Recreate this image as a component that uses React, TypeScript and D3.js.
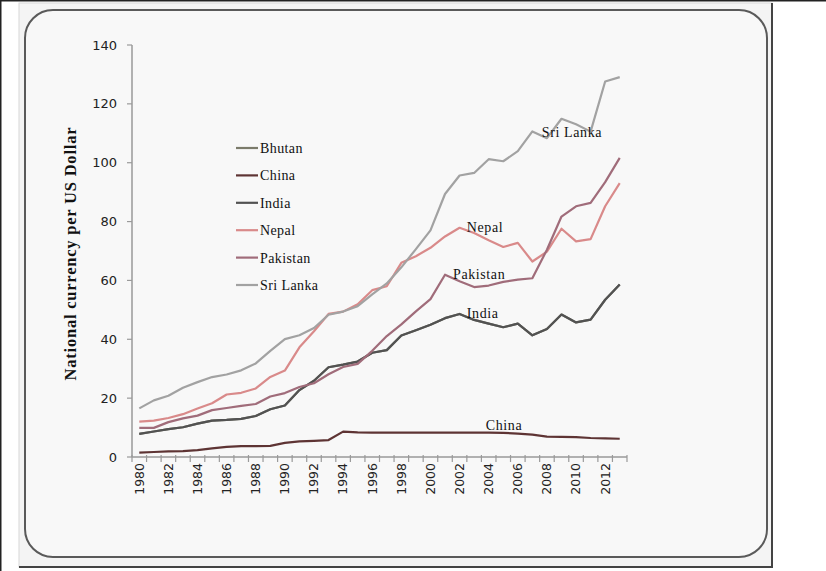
import React from "react";
import * as d3 from "d3";

const years: number[] = d3.range(1980, 2014);
const yTicks = [0, 20, 40, 60, 80, 100, 120, 140];
const xTickLabels = d3.range(1980, 2014, 2);

const bhutan = [7.86, 8.66, 9.46, 10.1, 11.36, 12.37, 12.61, 12.96, 13.92, 16.23, 17.5, 22.74, 25.92, 30.49, 31.37, 32.43, 35.43, 36.31, 41.26, 43.06, 44.94, 47.19, 48.61, 46.58, 45.32, 44.1, 45.31, 41.35, 43.51, 48.41, 45.73, 46.67, 53.44, 58.6];
const china = [1.5, 1.7, 1.89, 1.98, 2.32, 2.94, 3.45, 3.72, 3.72, 3.77, 4.78, 5.32, 5.51, 5.76, 8.62, 8.35, 8.31, 8.29, 8.28, 8.28, 8.28, 8.28, 8.28, 8.28, 8.28, 8.19, 7.97, 7.61, 6.95, 6.83, 6.77, 6.46, 6.31, 6.2];
const india = [7.86, 8.66, 9.46, 10.1, 11.36, 12.37, 12.61, 12.96, 13.92, 16.23, 17.5, 22.74, 25.92, 30.49, 31.37, 32.43, 35.43, 36.31, 41.26, 43.06, 44.94, 47.19, 48.61, 46.58, 45.32, 44.1, 45.31, 41.35, 43.51, 48.41, 45.73, 46.67, 53.44, 58.6];
const nepal = [12.0, 12.34, 13.24, 14.55, 16.46, 18.25, 21.23, 21.82, 23.29, 27.19, 29.37, 37.26, 42.72, 48.61, 49.4, 51.89, 56.69, 58.01, 65.98, 68.24, 71.09, 74.95, 77.88, 76.14, 73.67, 71.37, 72.76, 66.42, 69.76, 77.55, 73.26, 74.02, 85.2, 93.08];
const pakistan = [9.9, 9.9, 11.85, 13.12, 14.05, 15.93, 16.65, 17.4, 18.0, 20.54, 21.71, 23.8, 25.08, 28.11, 30.57, 31.64, 36.08, 41.11, 45.05, 49.5, 53.65, 61.93, 59.72, 57.75, 58.26, 59.51, 60.27, 60.74, 70.41, 81.71, 85.19, 86.34, 93.4, 101.63];
const sriLanka = [16.53, 19.25, 20.81, 23.53, 25.44, 27.16, 28.02, 29.45, 31.81, 36.05, 40.06, 41.37, 43.83, 48.32, 49.42, 51.25, 55.27, 58.99, 64.45, 70.64, 77.01, 89.38, 95.66, 96.52, 101.19, 100.5, 103.91, 110.62, 108.33, 114.94, 113.06, 110.57, 127.6, 129.07];

const seriesNames = ["Bhutan", "China", "India", "Nepal", "Pakistan", "Sri Lanka"];
const seriesValues = [bhutan, china, india, nepal, pakistan, sriLanka];
const seriesColors = ["#7b7b6b", "#5e3434", "#525252", "#d98a8a", "#a06c7a", "#a2a2a2"];

// inline annotations: [name, year, value]
const annoNames = ["Sri Lanka", "Nepal", "Pakistan", "India", "China"];
const annoYears = [2007.65, 2002.5, 2001.55, 2002.5, 2003.8];
const annoValues = [110.4, 78.1, 62.2, 48.9, 10.9];

export default function App() {
  const W = 826, H = 571;
  const x = d3.scaleBand<number>().domain(years).range([132, 627]).padding(0);
  const bw = x.bandwidth();
  const cx = (yr: number) => (x(yr) as number) + bw / 2;
  const xc = d3.scaleLinear().domain([1980, 2013]).range([cx(1980), cx(2013)]);
  const y = d3.scaleLinear().domain([0, 140]).range([457, 45]);
  const line = d3.line<number>().x((_, i) => cx(years[i])).y((d) => y(d));
  const serif = "'Liberation Serif', 'DejaVu Serif', serif";
  const sans = "'DejaVu Sans', Verdana, sans-serif";
  const legendY0 = 148, legendStep = 27.4;

  return (
    <svg width={W} height={H} style={{ position: "absolute", left: 0, top: 0, background: "#fff" }}>
      {/* outer frame */}
      <rect x={19} y={3} width={753} height={564} fill="#f4f4f4" stroke="#d8d8d8" strokeWidth={1} />
      <line x1={0} y1={0.75} x2={826} y2={0.75} stroke="#222" strokeWidth={1.5} />
      <line x1={0.75} y1={0} x2={0.75} y2={571} stroke="#222" strokeWidth={1.5} />
      <line x1={772} y1={3} x2={772} y2={568} stroke="#444" strokeWidth={2} />
      <line x1={19} y1={567} x2={773} y2={567} stroke="#444" strokeWidth={2} />
      <rect x={25} y={10} width={742} height={547} rx={28} ry={28} fill="#f8f8f8" stroke="#5a5a5a" strokeWidth={2} />

      {/* y axis */}
      <line x1={132} y1={y(140)} x2={132} y2={y(0)} stroke="#9a9a9a" strokeWidth={1.5} />
      {yTicks.map((t) => (
        <g key={t}>
          <line x1={127} y1={y(t)} x2={132} y2={y(t)} stroke="#9a9a9a" strokeWidth={1.2} />
          <text x={117} y={y(t)} dy="0.35em" textAnchor="end" fontFamily={sans} fontSize={13} fill="#222">{t}</text>
        </g>
      ))}
      {/* x axis */}
      <line x1={132} y1={y(0)} x2={627} y2={y(0)} stroke="#9a9a9a" strokeWidth={1.5} />
      {d3.range(0, years.length + 1).map((i) => (
        <line key={i} x1={132 + i * bw} y1={y(0) - 2} x2={132 + i * bw} y2={y(0) + 5} stroke="#9a9a9a" strokeWidth={1.2} />
      ))}
      {xTickLabels.map((yr) => (
        <text key={yr} transform={`translate(${cx(yr)},${y(0) + 6}) rotate(-90)`} dy="0.35em" textAnchor="end" fontFamily={sans} fontSize={12.5} fill="#222">{yr}</text>
      ))}

      {/* y title */}
      <text transform={`translate(76,254) rotate(-90)`} textAnchor="middle" fontFamily={serif} fontWeight="bold" fontSize={16.5} fill="#111" textLength={253} lengthAdjust="spacing">National currency per US Dollar</text>

      {/* lines */}
      {seriesValues.map((vals, i) => (
        <path key={seriesNames[i]} d={line(vals) as string} fill="none" stroke={seriesColors[i]} strokeWidth={2.2} strokeLinejoin="round" />
      ))}

      {/* legend */}
      {seriesNames.map((n, i) => (
        <g key={n}>
          <line x1={236} x2={258} y1={legendY0 + i * legendStep} y2={legendY0 + i * legendStep} stroke={seriesColors[i]} strokeWidth={2.2} />
          <text x={260} y={legendY0 + i * legendStep} dy="0.35em" fontFamily={serif} fontSize={14} letterSpacing={0.4} fill="#111">{n}</text>
        </g>
      ))}

      {/* annotations */}
      {annoNames.map((n, i) => (
        <text key={n} x={xc(annoYears[i])} y={y(annoValues[i])} dy="0.35em" fontFamily={serif} fontSize={14} letterSpacing={0.6} fill="#111">{n}</text>
      ))}
    </svg>
  );
}
